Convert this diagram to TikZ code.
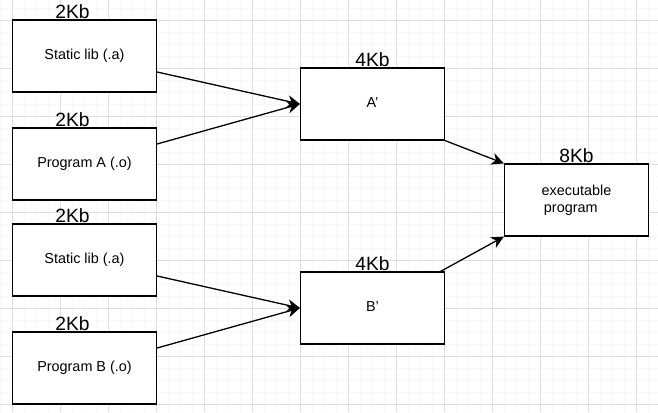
\documentclass[tikz,border=0pt]{standalone}
\usepackage{fontspec}
\setmainfont{Liberation Sans}
\usetikzlibrary{arrows.meta,calc}
\definecolor{gridmajor}{HTML}{DEDEDE}
\definecolor{gridminor}{HTML}{F8F8F8}
\begin{document}
\begin{tikzpicture}[x=1pt,y=-1pt,
  box/.style={draw=black, line width=1.2pt, fill=white, minimum width=144pt,
    minimum height=72pt, inner sep=0pt, font=\fontsize{14.4}{16.6}\selectfont},
  onel/.style={text height=10pt, text depth=3.4pt},
  kb/.style={inner sep=0pt, anchor=base, font=\fontsize{19.2}{22}\selectfont},
  conn/.style={draw=black, line width=1.3pt,
    -{Stealth[length=12.5pt, width=12pt, inset=4pt]}}
]
\useasboundingbox (0,0) rectangle (658,412);
\fill[white] (0,0) rectangle (658,412);
% grid
\foreach \i in {0,...,54} {
  \draw[gridminor, line width=0.7pt] ({0.5+12*\i},0) -- ({0.5+12*\i},412);
}
\foreach \j in {0,...,34} {
  \draw[gridminor, line width=0.7pt] (0,{8+12*\j}) -- (658,{8+12*\j});
}
\foreach \i in {0,...,13} {
  \draw[gridmajor, line width=0.8pt] ({12.5+48*\i},0) -- ({12.5+48*\i},412);
}
\foreach \j in {0,...,8} {
  \draw[gridmajor, line width=0.8pt] (0,{20+48*\j}) -- (658,{20+48*\j});
}
% boxes
\node[box, onel] (s1) at (84.5,56) {Static lib (.a)};
\node[box, onel] (p1) at (84.5,164) {Program A (.o)};
\node[box, onel] (s2) at (84.5,260) {Static lib (.a)};
\node[box, onel] (p2) at (84.5,368) {Program B (.o)};
\node[box, onel] (a) at (372.5,104) {A\char"27};
\node[box, onel] (b) at (372.5,308) {B\char"27};
\node[box, align=left] (e) at (576.5,200) {executable\\\hspace{2.3pt}program};
% size labels
\node[kb] (ls1) at ($(s1.north)+(-12,-1.2)$) {2Kb};
\node[kb] (lp1) at ($(p1.north)+(-12,-1.2)$) {2Kb};
\node[kb] (ls2) at ($(s2.north)+(-12,-1.2)$) {2Kb};
\node[kb] (lp2) at ($(p2.north)+(-12,-1.2)$) {2Kb};
\node[kb] (la) at ($(a.north)+(0,-1.2)$) {4Kb};
\node[kb] (lb) at ($(b.north)+(0,-1.2)$) {4Kb};
\node[kb] (le) at ($(e.north)+(0,-1.2)$) {8Kb};
% connectors
\draw[conn] ($(s1.east)+(0,16)$) -- (a.west);
\draw[conn] ($(p1.east)+(0,-20)$) -- (a.west);
\draw[conn] ($(s2.east)+(0,16)$) -- (b.west);
\draw[conn] ($(p2.east)+(0,-20)$) -- (b.west);
\draw[conn] (a.south east) -- (e.north west);
\draw[conn] ($(b.north east)+(-4.5,0)$) -- (e.south west);
\end{tikzpicture}
\end{document}
